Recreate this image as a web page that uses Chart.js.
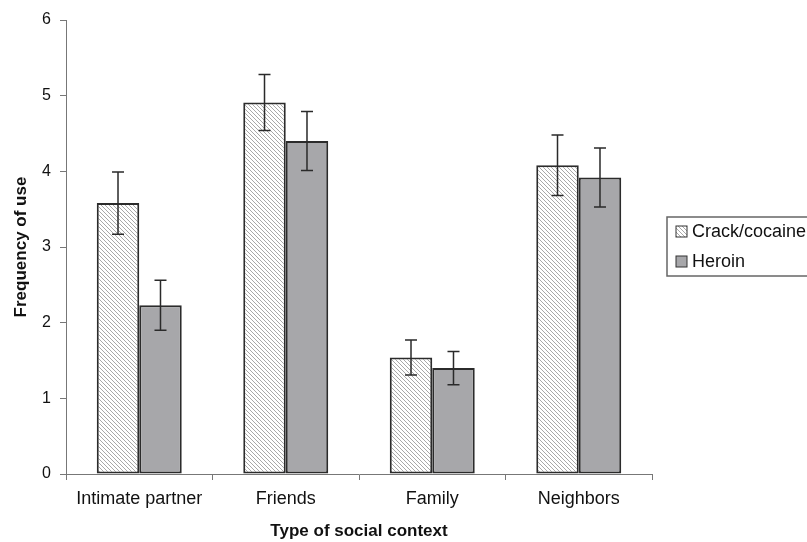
<!DOCTYPE html>
<html>
<head>
<meta charset="utf-8">
<script src="https://cdn.jsdelivr.net/npm/chart.js@4.4.0/dist/chart.umd.min.js"></script>
<style>
  body { margin: 0; background: #fff; }
  #wrap { width: 807px; height: 542px; }
</style>
</head>
<body>
<div id="wrap"><canvas id="chart" width="807" height="542"></canvas></div>
<script>
// data
const categories = ['Intimate partner', 'Friends', 'Family', 'Neighbors'];
const seriesNames = ['Crack/cocaine', 'Heroin'];
const crack = [3.58, 4.91, 1.54, 4.08];
const crackErr = [0.41, 0.37, 0.23, 0.40];
const heroin = [2.23, 4.40, 1.40, 3.92];
const heroinErr = [0.33, 0.39, 0.22, 0.39];
const yTicks = [0, 1, 2, 3, 4, 5, 6];

const FONT = "'Liberation Sans', Arial, sans-serif";
const AXIS = '#777';

// diagonal hatch for crack/cocaine bars
function makeHatch() {
  const c = document.createElement('canvas');
  c.width = 8; c.height = 8;
  const g = c.getContext('2d');
  g.fillStyle = '#fff';
  g.fillRect(0, 0, 8, 8);
  g.strokeStyle = '#a8a8a8';
  g.lineWidth = 1;
  for (let x = -8; x <= 8; x += 4) {
    g.beginPath();
    g.moveTo(x, 0);
    g.lineTo(x + 8, 8);
    g.stroke();
  }
  return g.createPattern(c, 'repeat');
}
const ctx = document.getElementById('chart').getContext('2d');
const hatch = makeHatch();
const fills = [hatch, '#a7a7aa'];

// error bars drawn from the values through the y scale
const errorBars = {
  id: 'errorBars',
  afterDatasetsDraw(chart) {
    const c = chart.ctx;
    const y = chart.scales.y;
    c.save();
    c.strokeStyle = '#2a2a2a';
    c.lineWidth = 1.5;
    chart.data.datasets.forEach((ds, i) => {
      chart.getDatasetMeta(i).data.forEach((bar, j) => {
        const v = ds.data[j], e = ds.errors[j];
        const top = y.getPixelForValue(v + e);
        const bot = y.getPixelForValue(v - e);
        c.beginPath();
        c.moveTo(bar.x, top); c.lineTo(bar.x, bot);
        c.moveTo(bar.x - 6, top); c.lineTo(bar.x + 6, top);
        c.moveTo(bar.x - 6, bot); c.lineTo(bar.x + 6, bot);
        c.stroke();
      });
    });
    c.restore();
  }
};

// boxed legend at the right, as in the original figure
const boxLegend = {
  id: 'boxLegend',
  afterDraw(chart) {
    const c = chart.ctx;
    c.save();
    c.strokeStyle = '#666';
    c.lineWidth = 1.5;
    c.strokeRect(667, 217, 160, 59);
    c.font = '18px ' + FONT;
    c.textBaseline = 'middle';
    chart.data.datasets.forEach((ds, i) => {
      const cy = 232 + i * 30;
      c.fillStyle = ds.backgroundColor;
      c.fillRect(676, cy - 6, 11, 11);
      c.strokeStyle = '#333';
      c.lineWidth = 1;
      c.strokeRect(676, cy - 6, 11, 11);
      c.fillStyle = '#111';
      c.fillText(ds.label, 692, cy);
    });
    c.restore();
  }
};

new Chart(ctx, {
  type: 'bar',
  data: {
    labels: categories,
    datasets: [
      { label: seriesNames[0], data: crack, errors: crackErr, backgroundColor: fills[0] },
      { label: seriesNames[1], data: heroin, errors: heroinErr, backgroundColor: fills[1] }
    ]
  },
  options: {
    responsive: false,
    animation: false,
    layout: { padding: { top: 20, right: 155, bottom: 0, left: 0 } },
    datasets: {
      bar: {
        categoryPercentage: 0.58,
        barPercentage: 1.0,
        borderColor: '#2b2b2b',
        borderWidth: 2,
        borderSkipped: false
      }
    },
    plugins: {
      legend: { display: false },
      tooltip: { enabled: false }
    },
    scales: {
      x: {
        afterFit(s) { s.height = 68; },
        grid: { drawOnChartArea: false, tickLength: 6, color: AXIS, offset: true },
        border: { color: AXIS, width: 1 },
        ticks: { color: '#111', font: { family: FONT, size: 18 }, padding: 8, maxRotation: 0 },
        title: {
          display: true, text: 'Type of social context', color: '#111',
          font: { family: FONT, size: 17, weight: 'bold' }, padding: { top: 0, bottom: 0 }
        }
      },
      y: {
        min: yTicks[0],
        max: yTicks[yTicks.length - 1],
        afterFit(s) { s.width = 66; },
        afterBuildTicks(s) { s.ticks = yTicks.map(v => ({ value: v })); },
        grid: { drawOnChartArea: false, tickLength: 6, color: AXIS },
        border: { color: AXIS, width: 1 },
        ticks: { color: '#111', font: { family: FONT, size: 16 }, padding: 9 },
        title: {
          display: true, text: 'Frequency of use', color: '#111',
          font: { family: FONT, size: 17, weight: 'bold' }, padding: { top: 11, bottom: 0 }
        }
      }
    }
  },
  plugins: [errorBars, boxLegend]
});
</script>
</body>
</html>
